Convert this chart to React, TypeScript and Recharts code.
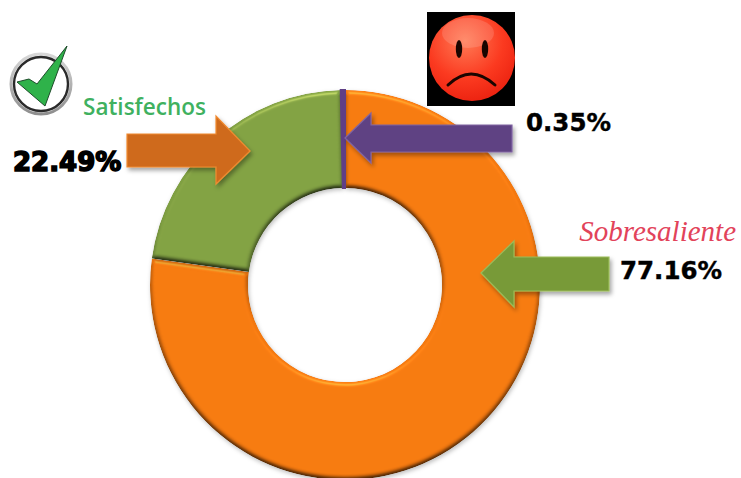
import { PieChart, Pie, Cell } from 'recharts';

const CATEGORIES = ['Sobresaliente', 'Satisfechos', 'Insatisfechos'];
const VALUES = [77.16, 22.49, 0.35];
const COLORS = ['#f3780f', '#7f9f42', '#5f3f86'];

const pieData = CATEGORIES.map((name, i) => ({ name, value: VALUES[i] }));

const PERCENT_FONT = '"DejaVu Sans", sans-serif';

function Bevel() {
  return (
    <svg width={0} height={0} style={{ position: 'absolute' }}>
      <defs>
        <filter id="bevel" x="-10%" y="-10%" width="120%" height="120%" colorInterpolationFilters="sRGB">
          <feGaussianBlur in="SourceAlpha" stdDeviation="2" result="blur" />
          <feDiffuseLighting in="blur" surfaceScale="2.2" diffuseConstant="1.25" lightingColor="#ffffff" result="diff">
            <feDistantLight azimuth="270" elevation="53" />
          </feDiffuseLighting>
          <feComposite in="SourceGraphic" in2="diff" operator="arithmetic" k1="1" k2="0" k3="0" k4="0" result="lit" />
          <feSpecularLighting in="blur" surfaceScale="2.2" specularConstant="0.5" specularExponent="45" lightingColor="#ffdf90" result="spec">
            <feDistantLight azimuth="270" elevation="50" />
          </feSpecularLighting>
          <feComposite in="spec" in2="SourceAlpha" operator="in" result="specIn" />
          <feComposite in="lit" in2="specIn" operator="arithmetic" k1="0" k2="1" k3="0.5" k4="0" result="shaded" />
          <feComposite in="shaded" in2="SourceAlpha" operator="in" result="body" />
          <feDropShadow in="body" dx="1" dy="2" stdDeviation="2" floodColor="#000" floodOpacity="0.25" />
        </filter>
      </defs>
    </svg>
  );
}

function Overlay() {
  return (
    <svg width={741} height={478} style={{ position: 'absolute', left: 0, top: 0 }}>
      <defs>
        <filter id="arrowShadow" x="-15%" y="-15%" width="130%" height="140%">
          <feDropShadow dx="2" dy="3" stdDeviation="2" floodColor="#000" floodOpacity="0.35" />
        </filter>
        <radialGradient id="faceFill" cx="0.42" cy="0.3" r="0.8">
          <stop offset="0" stopColor="#ff7a55" />
          <stop offset="0.55" stopColor="#fb3a20" />
          <stop offset="1" stopColor="#e81c0c" />
        </radialGradient>
        <linearGradient id="ringFill" x1="0" y1="0" x2="0" y2="1">
          <stop offset="0" stopColor="#d8d8d8" />
          <stop offset="1" stopColor="#8e8e8e" />
        </linearGradient>
      </defs>

      {/* arrows */}
      <polygon
        points="127,134 216,134 216,116 250,151 216,184 216,167 127,167"
        fill="#cf6b1c"
        stroke="#f08a30"
        strokeWidth={1.2}
        filter="url(#arrowShadow)"
      />
      <polygon
        points="345,138 371,113 371,125 512,125 512,152 371,152 371,163"
        fill="#5f4283"
        stroke="#8064a2"
        strokeWidth={1.2}
        filter="url(#arrowShadow)"
      />
      <polygon
        points="481,273 514,241 514,257 609,257 609,291 514,291 514,307"
        fill="#789a38"
        stroke="#9bbb59"
        strokeWidth={1.2}
        filter="url(#arrowShadow)"
      />

      {/* check icon */}
      <circle cx={41} cy={84} r={30} fill="#ffffff" stroke="url(#ringFill)" strokeWidth={3} />
      <circle cx={41} cy={84} r={27} fill="#ffffff" stroke="#2a2a2a" strokeWidth={2.4} />
      <polygon
        points="17,82 29,79 37,84 67,46 45,106"
        fill="#2fb24a"
        stroke="#1d4d2a"
        strokeWidth={1}
      />

      {/* sad face */}
      <rect x={427} y={12} width={88} height={94} fill="#000000" />
      <circle cx={472} cy={58} r={43} fill="url(#faceFill)" />
      <ellipse cx={468} cy={33} rx={26} ry={15} fill="#ffffff" opacity={0.14} />
      <ellipse cx={459} cy={49} rx={3.2} ry={9} fill="#1a0500" />
      <ellipse cx={485} cy={49} rx={3.2} ry={9} fill="#1a0500" />
      <path d="M448 85 Q471 63 495 85" fill="none" stroke="#1a0500" strokeWidth={3} strokeLinecap="round" />

      {/* labels */}
      <text
        x={83}
        y={115}
        fontFamily='"Open Sans", sans-serif'
        fontWeight={600}
        fontSize={23}
        fill="#3fb15f"
        textLength={123}
        lengthAdjust="spacingAndGlyphs"
      >
        Satisfechos
      </text>
      <text
        x={736}
        y={241}
        textAnchor="end"
        fontFamily='"Liberation Serif", serif'
        fontStyle="italic"
        fontSize={29}
        fill="#e2435a"
      >
        Sobresaliente
      </text>
      <text
        x={13}
        y={171}
        fontFamily={PERCENT_FONT}
        fontWeight={700}
        fontSize={26}
        fill="#000"
        stroke="#000"
        strokeWidth={1.6}
      >
        22.49%
      </text>
      <text x={526} y={131} fontFamily={PERCENT_FONT} fontWeight={700} fontSize={24.5} fill="#000" stroke="#000" strokeWidth={0.4}>
        0.35%
      </text>
      <text x={620} y={279} fontFamily={PERCENT_FONT} fontWeight={700} fontSize={24.5} fill="#000" stroke="#000" strokeWidth={0.4}>
        77.16%
      </text>
    </svg>
  );
}

export default function App() {
  return (
    <div
      style={{
        position: 'absolute',
        left: 0,
        top: 0,
        width: 741,
        height: 478,
        overflow: 'hidden',
        background: '#ffffff',
      }}
    >
      <Bevel />
      <PieChart width={741} height={478} margin={{ top: 0, right: 0, bottom: 0, left: 0 }}>
        <Pie
          data={pieData}
          dataKey="value"
          nameKey="name"
          cx={345}
          cy={285}
          innerRadius={97}
          outerRadius={195}
          startAngle={90}
          endAngle={-270}
          stroke="none"
          isAnimationActive={false}
        >
          {pieData.map((entry, index) => (
            <Cell
              key={entry.name}
              fill={COLORS[index]}
              stroke={index === 2 ? COLORS[2] : 'none'}
              strokeWidth={index === 2 ? 2 : 0}
              filter={index < 2 ? 'url(#bevel)' : undefined}
            />
          ))}
        </Pie>
      </PieChart>
      <Overlay />
    </div>
  );
}
